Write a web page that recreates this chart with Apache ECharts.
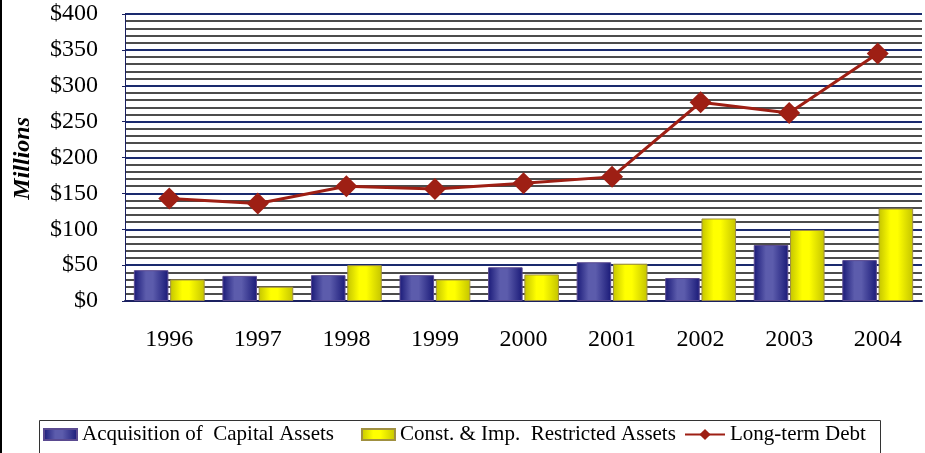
<!DOCTYPE html>
<html lang="en">
<head>
	<meta charset="UTF-8">
	<title>Capital Assets and Debt</title>
	<script src="https://cdn.jsdelivr.net/npm/echarts@6/dist/echarts.min.js"></script>
	<style>
		html, body { margin: 0; padding: 0; background: #fff; }
		#chart { width: 925px; height: 453px; }
	</style>
</head>
<body>
	<div id="chart"></div>
	<script>
		// data (millions of dollars)
		var years = ['1996', '1997', '1998', '1999', '2000', '2001', '2002', '2003', '2004']
		var acquisition = [43, 35, 36, 36, 47, 54, 32, 78, 57]
		var restricted = [30, 20, 50, 30, 37, 52, 115, 99, 129]
		var longTermDebt = [143, 136, 160, 156, 164, 173, 277, 262, 345]

		var serif = 'Liberation Serif'
		var chart = echarts.init(document.getElementById('chart'))

		function barGrad(edge, mid) {
			return new echarts.graphic.LinearGradient(0, 0, 1, 0, [
				{ offset: 0, color: edge },
				{ offset: 0.35, color: mid },
				{ offset: 0.55, color: mid },
				{ offset: 1, color: edge }
			])
		}

		var legendText = { fontFamily: serif, fontSize: 21, color: '#000' }

		var option = {
			animation: false,
			grid: { left: 125, right: 3, top: 14, bottom: 152 },
			legend: [
				{
					left: 37,
					top: 419,
					padding: [5, 6, 4, 6],
					itemWidth: 33,
					itemHeight: 11,
					itemGap: 27,
					icon: 'rect',
					textStyle: legendText,
					data: ['Acquisition of  Capital Assets', 'Const. & Imp.  Restricted Assets']
				},
				{
					left: 678,
					top: 419,
					padding: [5, 6, 4, 6],
					itemWidth: 40,
					itemHeight: 14,
					textStyle: legendText,
					data: ['Long-term Debt']
				}
			],
			graphic: [
				{ type: 'rect', left: 0, top: 0, shape: { width: 2, height: 453 }, style: { fill: '#000' } },
				{
					type: 'rect', left: 37, top: 418,
					shape: { width: 841, height: 33 },
					style: { fill: 'none', stroke: '#333', lineWidth: 1 }
				},
				{
					type: 'text', left: 11, top: 117, rotation: Math.PI / 2,
					style: { text: 'Millions', font: 'italic bold 24px "Liberation Serif"', fill: '#000' }
				}
			],
			xAxis: {
				type: 'category',
				data: years,
				axisLine: { lineStyle: { color: '#1a2060', width: 2 } },
				axisTick: { inside: true, length: 6, lineStyle: { color: '#1a2060' } },
				axisLabel: { fontFamily: serif, fontSize: 24, color: '#000', margin: 27 }
			},
			yAxis: {
				type: 'value',
				min: 0,
				max: 400,
				interval: 50,
				axisLine: { show: true, lineStyle: { color: '#1a2060', width: 1 } },
				axisTick: { show: true, length: 3, lineStyle: { color: '#1a2060' } },
				axisLabel: { fontFamily: serif, fontSize: 24, color: '#000', margin: 27, formatter: '${value}' },
				splitLine: { lineStyle: { color: '#1a2a6e', width: 2 } },
				minorTick: { show: false, splitNumber: 5 },
				minorSplitLine: { show: true, lineStyle: { color: '#111', width: 1.7 } }
			},
			series: [
				{
					name: 'Acquisition of  Capital Assets',
					type: 'bar',
					data: acquisition,
					barGap: '5%',
					barCategoryGap: '20%',
					itemStyle: { color: barGrad('#1a1a78', '#5c5cac'), borderColor: '#5a4a90', borderWidth: 1 }
				},
				{
					name: 'Const. & Imp.  Restricted Assets',
					type: 'bar',
					data: restricted,
					itemStyle: { color: barGrad('#c4c400', '#ffff00'), borderColor: '#a09040', borderWidth: 1 }
				},
				{
					name: 'Long-term Debt',
					type: 'line',
					data: longTermDebt,
					symbol: 'diamond',
					symbolSize: 22,
					z: 5,
					lineStyle: { color: '#9e1f14', width: 3 },
					itemStyle: { color: '#9e1f14' }
				}
			]
		}

		chart.setOption(option)
	</script>
</body>
</html>
